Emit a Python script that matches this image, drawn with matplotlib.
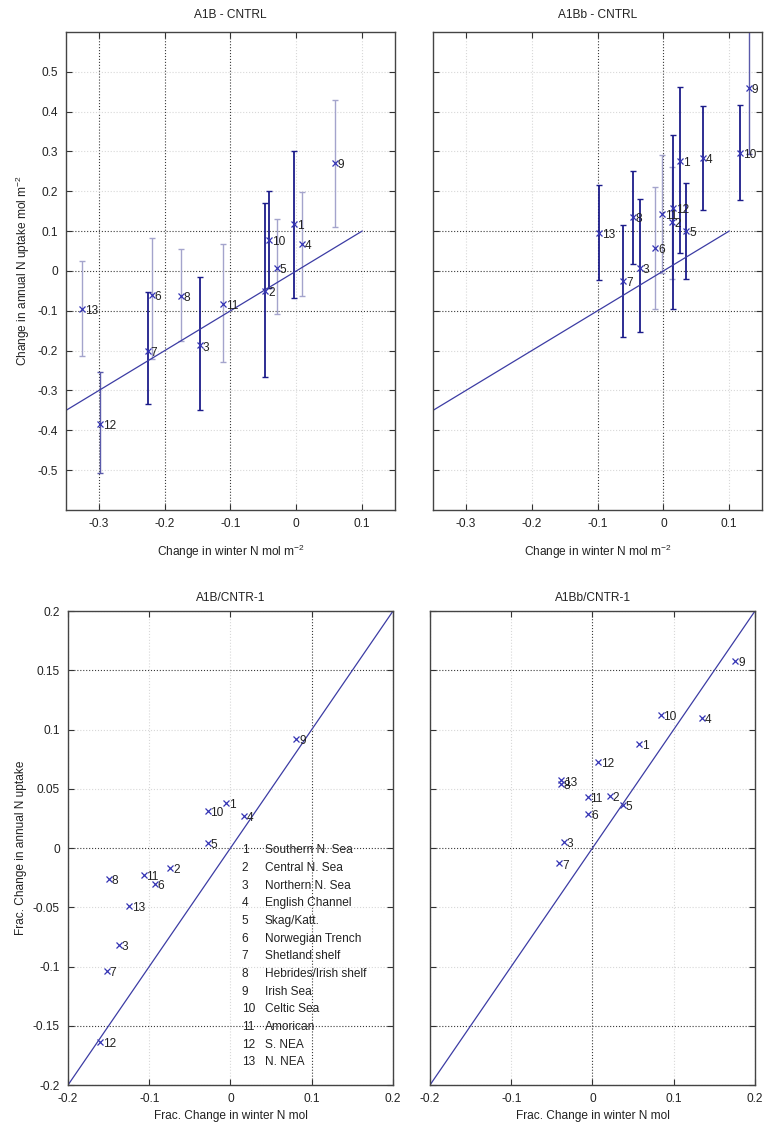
import matplotlib
matplotlib.use('Agg')
import matplotlib.pyplot as plt
import numpy as np

plt.rcParams['font.family'] = ['Liberation Sans', 'DejaVu Sans']
plt.rcParams['mathtext.default'] = 'regular'

# region numbers and names
ids = list(range(1, 14))
names = ['Southern N. Sea', 'Central N. Sea', 'Northern N. Sea', 'English Channel',
         'Skag/Katt.', 'Norwegian Trench', 'Shetland shelf', 'Hebrides/Irish shelf',
         'Irish Sea', 'Celtic Sea', 'Amorican', 'S. NEA', 'N. NEA']

# A1B - CNTRL (absolute change, with ranges)
x_a = [-0.003, -0.047, -0.146, 0.008, -0.029, -0.220, -0.226, -0.175, 0.059, -0.041, -0.111, -0.298, -0.326]
y_a = [0.118, -0.050, -0.187, 0.068, 0.008, -0.060, -0.200, -0.062, 0.270, 0.077, -0.083, -0.383, -0.096]
lo_a = [-0.067, -0.267, -0.350, -0.063, -0.108, -0.220, -0.335, -0.175, 0.110, -0.042, -0.229, -0.507, -0.213]
hi_a = [0.300, 0.170, -0.015, 0.198, 0.130, 0.082, -0.054, 0.055, 0.430, 0.200, 0.067, -0.254, 0.025]
shade_a = ['d', 'd', 'd', 'l', 'l', 'l', 'd', 'l', 'l', 'd', 'l', 'm', 'l']

# A1Bb - CNTRL
x_b = [0.026, 0.013, -0.036, 0.061, 0.035, -0.012, -0.061, -0.046, 0.130, 0.117, -0.002, 0.015, -0.098]
y_b = [0.275, 0.122, 0.008, 0.283, 0.100, 0.058, -0.025, 0.135, 0.460, 0.296, 0.142, 0.158, 0.096]
lo_b = [0.046, -0.020, -0.154, 0.152, -0.021, -0.096, -0.165, 0.018, 0.293, 0.177, -0.006, -0.096, -0.023]
hi_b = [0.462, 0.260, 0.180, 0.415, 0.222, 0.210, 0.115, 0.250, 0.650, 0.417, 0.290, 0.342, 0.215]
shade_b = ['d', 'l', 'd', 'd', 'd', 'l', 'd', 'd', 'm', 'd', 'l', 'd', 'd']

# fractional change A1B/CNTR-1 and A1Bb/CNTR-1
fx_a = [-0.005, -0.074, -0.137, 0.017, -0.028, -0.093, -0.152, -0.150, 0.081, -0.028, -0.107, -0.160, -0.125]
fy_a = [0.038, -0.017, -0.082, 0.027, 0.004, -0.030, -0.104, -0.026, 0.092, 0.031, -0.023, -0.164, -0.049]
fx_b = [0.057, 0.021, -0.035, 0.135, 0.037, -0.005, -0.041, -0.039, 0.176, 0.084, -0.006, 0.007, -0.039]
fy_b = [0.088, 0.044, 0.005, 0.110, 0.036, 0.029, -0.013, 0.054, 0.158, 0.112, 0.043, 0.073, 0.057]

# 1:1 lines
ref_top = [-0.35, 0.1]
ref_bottom = [-0.2, 0.2]

bar_col = {'d': '#1c1c8a', 'm': '#5a5aaa', 'l': '#a4a4cc'}
mark_col = '#3434b4'
line_col = '#3c3ca4'
txt_col = '#222222'
fs = 8.6

fig = plt.figure(figsize=(7.64, 11.28), dpi=100)
ax1 = fig.add_axes([0.0864, 0.5479, 0.4306, 0.4238])
ax2 = fig.add_axes([0.5668, 0.5479, 0.4306, 0.4238])
ax3 = fig.add_axes([0.0890, 0.0381, 0.4254, 0.4202])
ax4 = fig.add_axes([0.5628, 0.0381, 0.4254, 0.4202])


def fmt(v):
    return '%g' % round(v, 3)


def style(ax, xt, yt, ylabels, dark_x, dark_y):
    ax.set_xticks(xt)
    ax.set_yticks(yt)
    ax.set_xticklabels([fmt(v) for v in xt])
    if ylabels:
        ax.set_yticklabels([fmt(v) for v in yt])
    else:
        ax.set_yticklabels([])
    ax.tick_params(direction='in', top=True, right=True, length=4, width=0.8,
                   labelsize=fs, colors='#333333', labelcolor='#222222', pad=6)
    for s in ax.spines.values():
        s.set_color('#444444')
        s.set_linewidth(1.0)
    ax.grid(True, linestyle=':', linewidth=0.8)
    # matlab-ish dotted grid: some lines darker than others
    for v, g in zip(xt, ax.xaxis.get_gridlines()):
        g.set_color('#3a3a3a' if any(abs(v - d) < 1e-9 for d in dark_x) else '#d8d8d8')
    for v, g in zip(yt, ax.yaxis.get_gridlines()):
        g.set_color('#3a3a3a' if any(abs(v - d) < 1e-9 for d in dark_y) else '#d8d8d8')
    ax.set_axisbelow(True)


def labels(ax, xs, ys):
    for i, x, y in zip(ids, xs, ys):
        ax.annotate(str(i), (x, y), xytext=(2, -1.5), textcoords='offset points',
                    ha='left', va='center', fontsize=fs, color=txt_col)


# top panels
for ax, xs, ys, lo, hi, sh, title in [
        (ax1, x_a, y_a, lo_a, hi_a, shade_a, 'A1B - CNTRL'),
        (ax2, x_b, y_b, lo_b, hi_b, shade_b, 'A1Bb - CNTRL')]:
    for x, y, l, h, s in zip(xs, ys, lo, hi, sh):
        ax.errorbar([x], [y], yerr=[[y - l], [h - y]], fmt='none',
                    ecolor=bar_col[s], elinewidth=1.3 if s == 'd' else 1.0,
                    capsize=2, capthick=1.0)
    ax.plot(xs, ys, 'x', color=mark_col, markersize=4, markeredgewidth=0.9)
    ax.plot(ref_top, ref_top, '-', color=line_col, linewidth=0.9)
    labels(ax, xs, ys)
    ax.set_xlim(-0.35, 0.15)
    ax.set_ylim(-0.6, 0.6)
    ax.set_title(title, fontsize=fs, color='#222222', pad=10)
    ax.set_xlabel('Change in winter N mol m$^{-2}$', fontsize=fs, color='#222222', labelpad=9)

xt_top = [-0.3, -0.2, -0.1, 0.0, 0.1]
yt_top = [-0.5, -0.4, -0.3, -0.2, -0.1, 0.0, 0.1, 0.2, 0.3, 0.4, 0.5]
style(ax1, xt_top, yt_top, True, [-0.3, -0.2, -0.1], [0.1, 0.0, -0.1])
style(ax2, xt_top, yt_top, False, [-0.1, 0.0], [0.1, 0.0, -0.1])
ax1.set_ylabel('Change in annual N uptake mol m$^{-2}$', fontsize=fs, color='#222222', labelpad=4)

# bottom panels
for ax, xs, ys, title in [(ax3, fx_a, fy_a, 'A1B/CNTR-1'), (ax4, fx_b, fy_b, 'A1Bb/CNTR-1')]:
    ax.plot(xs, ys, 'x', color=mark_col, markersize=4, markeredgewidth=0.9)
    ax.plot(ref_bottom, ref_bottom, '-', color=line_col, linewidth=0.9)
    labels(ax, xs, ys)
    ax.set_xlim(-0.2, 0.2)
    ax.set_ylim(-0.2, 0.2)
    ax.set_title(title, fontsize=fs, color='#222222', pad=7)
    ax.set_xlabel('Frac. Change in winter N mol', fontsize=fs, color='#222222', labelpad=3)

xt_bot = [-0.2, -0.1, 0.0, 0.1, 0.2]
yt_bot = [-0.2, -0.15, -0.1, -0.05, 0.0, 0.05, 0.1, 0.15, 0.2]
style(ax3, xt_bot, yt_bot, True, [0.1], [0.15, 0.0, -0.15])
style(ax4, xt_bot, yt_bot, False, [0.0], [0.15, 0.0, -0.15])
ax3.set_ylabel('Frac. Change in annual N uptake', fontsize=fs, color='#222222', labelpad=4)

# region key
for k, (i, n) in enumerate(zip(ids, names)):
    yy = -0.002 - k * 0.0149
    ax3.text(0.014, yy, str(i), fontsize=fs, color=txt_col, ha='left', va='center')
    ax3.text(0.042, yy, n, fontsize=fs, color=txt_col, ha='left', va='center')

fig.savefig('out.png', dpi=100)
